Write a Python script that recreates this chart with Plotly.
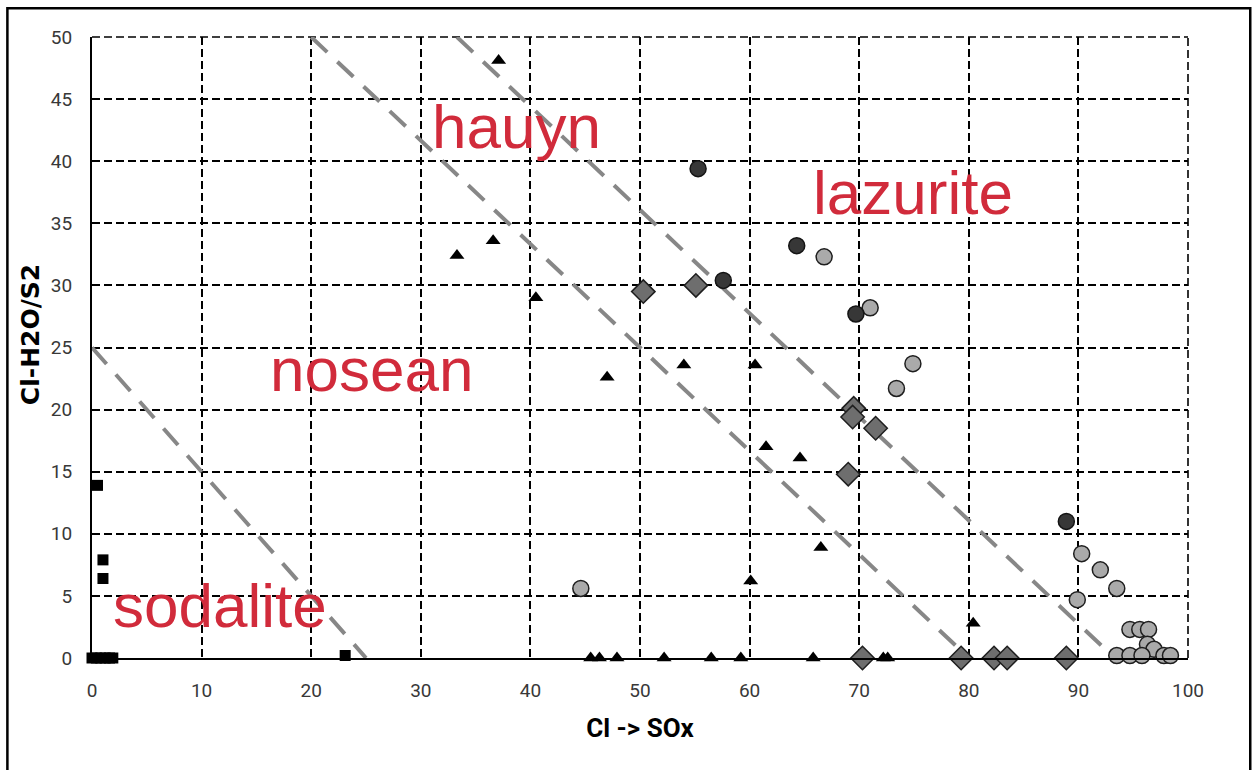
import plotly.graph_objects as go

# Black squares
sq_x = [0.0, 0.4, 0.8, 1.2, 1.6, 1.9, 0.5, 1.0, 1.0, 23.1]
sq_y = [0, 0, 0, 0, 0, 0, 13.9, 7.9, 6.4, 0.2]

# Black triangles
tri_x = [37.1, 33.3, 36.6, 40.5, 47.0, 54.0, 60.5, 61.5, 64.6, 66.5, 60.1, 80.4,
         45.5, 46.3, 47.9, 52.2, 56.5, 59.2, 65.8, 72.2, 72.6]
tri_y = [48.1, 32.4, 33.6, 29.0, 22.6, 23.6, 23.6, 17.0, 16.1, 8.9, 6.2, 2.8,
         0, 0, 0, 0, 0, 0, 0, 0, 0]

# Dark circles
dark_x = [55.3, 64.3, 57.6, 69.7, 88.9]
dark_y = [39.4, 33.2, 30.4, 27.7, 11.0]

# Light circles
light_x = [66.8, 71.0, 44.6, 74.9, 73.4, 90.3, 92.0, 93.5, 89.9, 94.7, 95.6, 96.4,
           96.3, 96.9, 93.5, 94.7, 95.8, 97.8, 98.4]
light_y = [32.3, 28.2, 5.6, 23.7, 21.7, 8.4, 7.1, 5.6, 4.7, 2.3, 2.3, 2.3,
           1.1, 0.7, 0.2, 0.2, 0.2, 0.2, 0.2]

# Gray diamonds
dia_x = [50.3, 55.1, 69.5, 69.4, 71.5, 69.0, 70.3, 79.3, 82.3, 83.5, 88.9]
dia_y = [29.5, 30.0, 20.1, 19.4, 18.5, 14.8, 0, 0, 0, 0, 0]

# Field boundaries (x pairs, y pairs)
bound_x = [[0, 25], [20, 80], [33.3, 93.3]]
bound_y = [[25, 0], [50, 0], [50, 0]]

# Field names and where they sit
field_names = ["hauyn", "lazurite", "nosean", "sodalite"]
field_x = [38.7, 74.9, 25.5, 11.7]
field_y = [42.8, 37.5, 23.2, 4.2]

x_ticks = list(range(0, 101, 10))
y_ticks = list(range(0, 51, 5))

fig = go.Figure()

for bx, by in zip(bound_x, bound_y):
    fig.add_trace(go.Scatter(
        x=bx, y=by, mode="lines", showlegend=False, hoverinfo="skip",
        line=dict(color="rgb(135,135,135)", width=4, dash="22px,14px"),
    ))

fig.add_trace(go.Scatter(
    x=sq_x, y=sq_y, mode="markers", name="set 1", cliponaxis=False,
    marker=dict(symbol="square", size=11, color="black", line=dict(width=0)),
))
fig.add_trace(go.Scatter(
    x=tri_x, y=tri_y, mode="markers", name="set 2", cliponaxis=False,
    marker=dict(symbol="triangle-up", size=13, color="black", line=dict(width=0)),
))
fig.add_trace(go.Scatter(
    x=light_x, y=light_y, mode="markers", name="set 3", cliponaxis=False,
    marker=dict(symbol="circle", size=16, color="rgb(170,170,170)",
                line=dict(width=1.5, color="rgb(30,30,30)")),
))
fig.add_trace(go.Scatter(
    x=dark_x, y=dark_y, mode="markers", name="set 4", cliponaxis=False,
    marker=dict(symbol="circle", size=16, color="rgb(55,55,55)",
                line=dict(width=1.5, color="rgb(20,20,20)")),
))
fig.add_trace(go.Scatter(
    x=dia_x, y=dia_y, mode="markers", name="set 5", cliponaxis=False,
    marker=dict(symbol="diamond", size=18, color="rgb(110,110,110)",
                line=dict(width=1.5, color="rgb(30,30,30)")),
))

for name, fx, fy in zip(field_names, field_x, field_y):
    fig.add_annotation(
        x=fx, y=fy, text=name, showarrow=False, xanchor="center", yanchor="middle",
        font=dict(family="Liberation Sans", size=62, color="#D12B3B"),
    )

# Vertical axis title
fig.add_annotation(
    xref="paper", yref="paper", x=-0.0565, y=0.52, text="Cl-H2O/S2",
    textangle=-90, showarrow=False, xanchor="center", yanchor="middle",
    font=dict(family="DejaVu Sans", size=25, color="black", weight="bold"),
)

# Dashed grid lines along the top and right edges of the plot area
edge_dash = dict(color="black", width=1.6, dash="8px,4px")
fig.add_shape(type="line", xref="paper", yref="paper", layer="between",
              x0=0, x1=1, y0=1, y1=1, line=edge_dash)
fig.add_shape(type="line", xref="paper", yref="paper", layer="between",
              x0=1, x1=1, y0=0, y1=1, line=edge_dash)

# Outer frame around the whole figure
fig.add_shape(
    type="rect", xref="paper", yref="paper",
    x0=-0.0772, x1=1.0568, y0=-0.2, y1=1.0462,
    line=dict(color="black", width=2.5), fillcolor="rgba(0,0,0,0)",
)

grid_style = dict(showgrid=True, gridcolor="black", gridwidth=1.6, griddash="8px,4px")

fig.update_xaxes(
    range=[0, 100], tickvals=x_ticks, ticktext=[str(v) for v in x_ticks],
    showline=True, linecolor="black", linewidth=2, zeroline=False,
    ticks="", ticklabelstandoff=14,
    tickfont=dict(family="Roboto", size=19, color="#383838"),
    title=dict(text="Cl -> SOx", standoff=18,
               font=dict(family="Roboto", size=26, color="black", weight="bold")),
    **grid_style,
)
fig.update_yaxes(
    range=[0, 50], tickvals=y_ticks, ticktext=[str(v) for v in y_ticks],
    showline=True, linecolor="black", linewidth=2, zeroline=False,
    ticks="", ticklabelstandoff=14,
    tickfont=dict(family="Roboto", size=19, color="#383838"),
    **grid_style,
)

fig.update_layout(
    width=1253, height=770,
    margin=dict(l=92, r=65, t=37, b=112),
    paper_bgcolor="white", plot_bgcolor="white",
    showlegend=False,
)

fig.write_html("out.html")
